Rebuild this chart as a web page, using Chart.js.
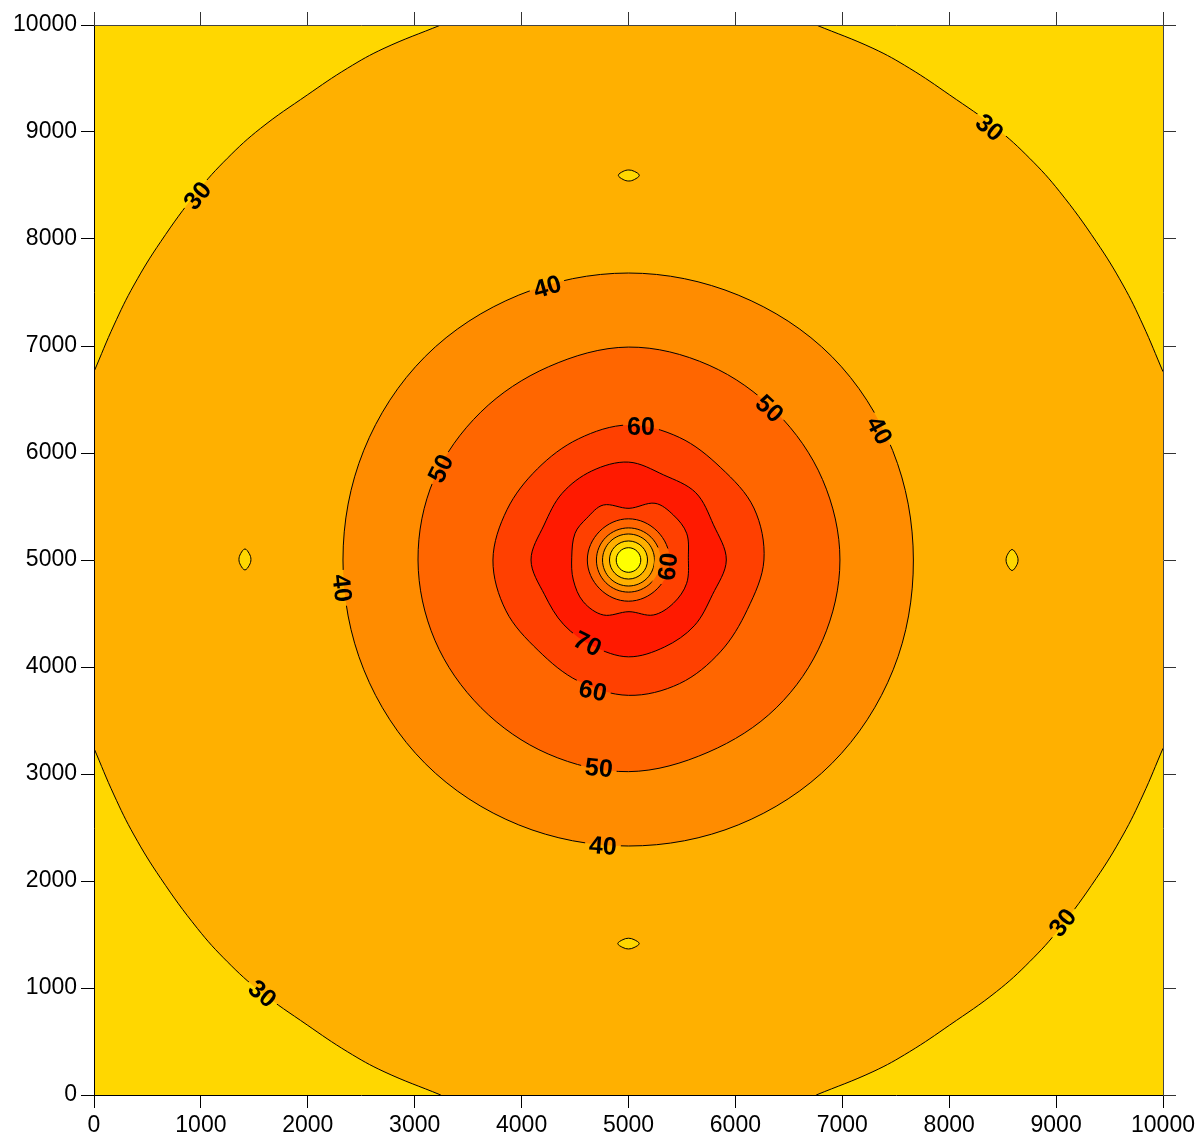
<!DOCTYPE html>
<html>
<head>
<meta charset="utf-8">
<title>Contour map</title>
<script src="https://cdn.jsdelivr.net/npm/chart.js@4.4.1/dist/chart.umd.min.js"></script>
<style>
  body { margin: 0; background: #fff; }
</style>
</head>
<body>
<canvas id="chart" width="1201" height="1137"></canvas>
<script>
// axes
const xRange = [0, 10000];
const yRange = [0, 10000];
const tickValues = [0, 1000, 2000, 3000, 4000, 5000, 6000, 7000, 8000, 9000, 10000];
const tickLabels = ['0', '1000', '2000', '3000', '4000', '5000', '6000', '7000', '8000', '9000', '10000'];

// fill colour of each band
const colBelow20 = '#FFFF00';
const col20to30 = '#FFD700';
const col30to40 = '#FFB000';
const col40to50 = '#FF8C00';
const col50to60 = '#FF6600';
const col60to70 = '#FF4000';
const col70to80 = '#FF1A00';

// level 30, the four pieces cut by the frame (x increasing)
const arc30TL = [[0, 6760], [187, 7196], [374, 7570], [624, 7975], [967, 8443], [1247, 8754], [1559, 9035], [1995, 9346], [2370, 9595], [2713, 9782], [3244, 10000]];
const arc30TR = [[6756, 10000], [7287, 9782], [7630, 9595], [8005, 9346], [8441, 9035], [8753, 8754], [9033, 8443], [9376, 7975], [9626, 7570], [9813, 7196], [10000, 6760]];
const arc30BL = [[0, 3240], [187, 2804], [374, 2430], [624, 2025], [967, 1557], [1247, 1246], [1559, 965], [1995, 654], [2370, 405], [2713, 218], [3244, 0]];
const arc30BR = [[6756, 0], [7287, 218], [7630, 405], [8005, 654], [8441, 965], [8753, 1246], [9033, 1557], [9376, 2025], [9626, 2430], [9813, 2804], [10000, 3240]];

// closed levels around the centre, going outwards -> inwards
const ring40 = [[7665, 5000], [7471, 6024], [6902, 6902], [6026, 7476], [5000, 7682], [3974, 7476], [3098, 6902], [2524, 6026], [2329, 5000], [2524, 3974], [3098, 3098], [3974, 2524], [5000, 2327], [6026, 2524], [6902, 3098], [7476, 3974]];
const ring50 = [[6978, 5000], [6815, 5752], [6382, 6382], [5754, 6820], [5000, 6990], [4252, 6806], [3618, 6382], [3180, 5754], [3031, 5000], [3189, 4250], [3620, 3620], [4249, 3187], [5000, 3022], [5744, 3203], [6382, 3618], [6815, 4248]];
const ring60 = [[6267, 5000], [6173, 5486], [5863, 5863], [5475, 6146], [5000, 6262], [4531, 6132], [4148, 5852], [3864, 5471], [3732, 5000], [3854, 4525], [4155, 4155], [4531, 3868], [5000, 3735], [5478, 3845], [5859, 4141], [6113, 4539]];
const ring70 = [[5915, 5000], [5795, 5329], [5629, 5629], [5329, 5795], [5000, 5915], [4656, 5832], [4378, 5622], [4210, 5327], [4088, 5000], [4215, 4675], [4395, 4395], [4667, 4196], [5000, 4095], [5337, 4187], [5615, 4385], [5785, 4675]];
const core70 = [[5560, 5026], [5544, 5250], [5419, 5421], [5248, 5530], [5005, 5483], [4765, 5514], [4609, 5390], [4500, 5250], [4469, 5026], [4484, 4813], [4577, 4610], [4765, 4486], [5005, 4517], [5232, 4486], [5419, 4595], [5544, 4782]];
const core60 = [[5385, 5000], [5269, 5269], [5000, 5385], [4731, 5269], [4615, 5000], [4731, 4731], [5000, 4615], [5269, 4731]];
const core50 = [[5300, 5000], [5212, 5212], [5000, 5300], [4788, 5212], [4700, 5000], [4788, 4788], [5000, 4700], [5212, 4788]];
const core40 = [[5243, 5000], [5172, 5172], [5000, 5243], [4828, 5172], [4757, 5000], [4828, 4828], [5000, 4757], [5172, 4828]];
const core30 = [[5178, 5000], [5126, 5126], [5000, 5178], [4874, 5126], [4822, 5000], [4874, 4874], [5000, 4822], [5126, 4874]];
const core20 = [[5115, 5000], [5081, 5081], [5000, 5115], [4919, 5081], [4885, 5000], [4919, 4919], [5000, 4885], [5081, 4919]];

// small closed 30 loops
const pitTop = [[5101, 8595], [5055, 8632], [5003, 8645], [4950, 8632], [4905, 8595], [4950, 8556], [5003, 8542], [5055, 8556]];
const pitBottom = [[5100, 1415], [5052, 1452], [5000, 1465], [4948, 1452], [4900, 1415], [4948, 1378], [5000, 1365], [5052, 1378]];
const pitLeft = [[1468, 5005], [1452, 5060], [1412, 5103], [1372, 5060], [1356, 5005], [1372, 4950], [1412, 4907], [1452, 4950]];
const pitRight = [[8644, 5000], [8628, 5055], [8588, 5098], [8548, 5055], [8532, 5000], [8548, 4945], [8588, 4902], [8628, 4945]];

// contour labels: text, x, y, rotation (deg)
const contourLabels = [
  ['30', 963, 8411, -50], ['30', 8382, 9047, 40], ['30', 1581, 953, 40], ['30', 9055, 1617, -50],
  ['40', 4238, 7561, -16], ['40', 7353, 6215, 62], ['40', 2329, 4738, 84], ['40', 4761, 2336, 4],
  ['50', 3237, 5860, -64], ['50', 6324, 6421, 43], ['50', 4724, 3065, 5],
  ['60', 5117, 6252, 0], ['60', 4668, 3785, 12], ['70', 4621, 4224, 26], ['60', 5360, 4939, -84]
];

const fontFamily = '"Liberation Sans", Arial, sans-serif';
const labelSize = 25;
const labelFont = 'bold ' + labelSize + 'px ' + fontFamily;

function band(points, color, tension) {
  return { data: points, showLine: true, closed: true, fill: 'shape', backgroundColor: color,
    borderColor: '#000', borderWidth: 1, pointRadius: 0, tension: tension };
}
// level 30 piece, filled towards the top or bottom edge of the frame
function edgeArc(points, side) {
  return { data: points, showLine: true, fill: side, backgroundColor: col20to30,
    borderColor: '#000', borderWidth: 1, pointRadius: 0, tension: 0.4 };
}

const datasets = [
  edgeArc(arc30TL, 'end'), edgeArc(arc30TR, 'end'),
  edgeArc(arc30BL, 'start'), edgeArc(arc30BR, 'start'),
  band(pitTop, col20to30, 0.375), band(pitBottom, col20to30, 0.375),
  band(pitLeft, col20to30, 0.375), band(pitRight, col20to30, 0.375),
  band(ring40, col40to50, 0.343), band(ring50, col50to60, 0.343),
  band(ring60, col60to70, 0.343), band(ring70, col70to80, 0.343),
  band(core70, col60to70, 0.343), band(core60, col50to60, 0.375),
  band(core50, col40to50, 0.375), band(core40, col30to40, 0.375),
  band(core30, col20to30, 0.375), band(core20, colBelow20, 0.375)
];
// later entries must be painted on top
datasets.forEach((ds, i) => { ds.order = datasets.length - i; });

function axis(position, size, labelled) {
  const horizontal = position === 'top' || position === 'bottom';
  return {
    type: 'linear', position: position, display: true, min: xRange[0], max: xRange[1],
    afterBuildTicks: s => { s.ticks = tickValues.map(v => ({ value: v })); },
    afterFit: s => { if (horizontal) s.height = size; else s.width = size; },
    grid: { drawOnChartArea: false, drawTicks: true, tickLength: 13, color: labelled ? '#000' : '#333' },
    border: { display: true, color: labelled ? '#000' : '#444', width: 1, z: 1 },
    ticks: { display: labelled, color: '#000', padding: 4, maxRotation: 0, autoSkip: false,
      font: { family: fontFamily, size: 23 }, callback: (v, i) => tickLabels[i] }
  };
}

function labelBoxes(chart) {
  const ctx = chart.ctx;
  ctx.font = labelFont;
  return contourLabels.map(l => ({
    text: l[0],
    px: chart.scales.x.getPixelForValue(l[1]),
    py: chart.scales.y.getPixelForValue(l[2]),
    a: l[3] * Math.PI / 180,
    w: ctx.measureText(l[0]).width
  }));
}

const contourPlugin = {
  id: 'contourLabels',
  afterDatasetsUpdate(chart) {
    // closed levels: let the spline wrap round instead of ending in a kink
    chart.data.datasets.forEach((ds, i) => {
      if (!ds.closed) return;
      const line = chart.getDatasetMeta(i).dataset;
      line._loop = true;
      line._fullLoop = true;
      delete line._segments;
      delete line._path;
      line._pointsUpdated = false;
    });
  },
  beforeDatasetsDraw(chart) {
    const a = chart.chartArea, ctx = chart.ctx;
    ctx.save();
    ctx.fillStyle = col30to40;
    ctx.fillRect(a.left, a.top, a.right - a.left, a.bottom - a.top);
    ctx.restore();
  },
  beforeDatasetDraw(chart) {
    // keep the contour lines out of the label boxes
    const ctx = chart.ctx;
    const boxes = labelBoxes(chart);
    ctx.save();
    ctx.beginPath();
    ctx.rect(0, 0, chart.width, chart.height);
    boxes.forEach(b => {
      const hw = b.w / 2 + 4, hh = labelSize * 0.36 + 4;
      const c = Math.cos(b.a), s = Math.sin(b.a);
      [[-hw, -hh], [hw, -hh], [hw, hh], [-hw, hh]].forEach((p, k) => {
        const X = b.px + p[0] * c - p[1] * s, Y = b.py + p[0] * s + p[1] * c;
        if (k) ctx.lineTo(X, Y); else ctx.moveTo(X, Y);
      });
      ctx.closePath();
    });
    ctx.clip('evenodd');
  },
  afterDatasetDraw(chart) {
    chart.ctx.restore();
  },
  afterDatasetsDraw(chart) {
    const ctx = chart.ctx;
    const boxes = labelBoxes(chart);
    ctx.save();
    ctx.fillStyle = '#000';
    ctx.textAlign = 'center';
    ctx.textBaseline = 'alphabetic';
    boxes.forEach(b => {
      ctx.save();
      ctx.translate(b.px, b.py);
      ctx.rotate(b.a);
      ctx.fillText(b.text, 0, labelSize * 0.358);
      ctx.restore();
    });
    ctx.restore();
  }
};

new Chart(document.getElementById('chart').getContext('2d'), {
  type: 'scatter',
  data: { datasets: datasets },
  options: {
    responsive: false,
    animation: false,
    events: [],
    layout: { padding: 0 },
    plugins: { legend: { display: false }, tooltip: { enabled: false } },
    scales: {
      x: axis('bottom', 42, true),
      y: axis('left', 94, true),
      x2: axis('top', 25, false),
      y2: axis('right', 38, false)
    }
  },
  plugins: [contourPlugin]
});
</script>
</body>
</html>
